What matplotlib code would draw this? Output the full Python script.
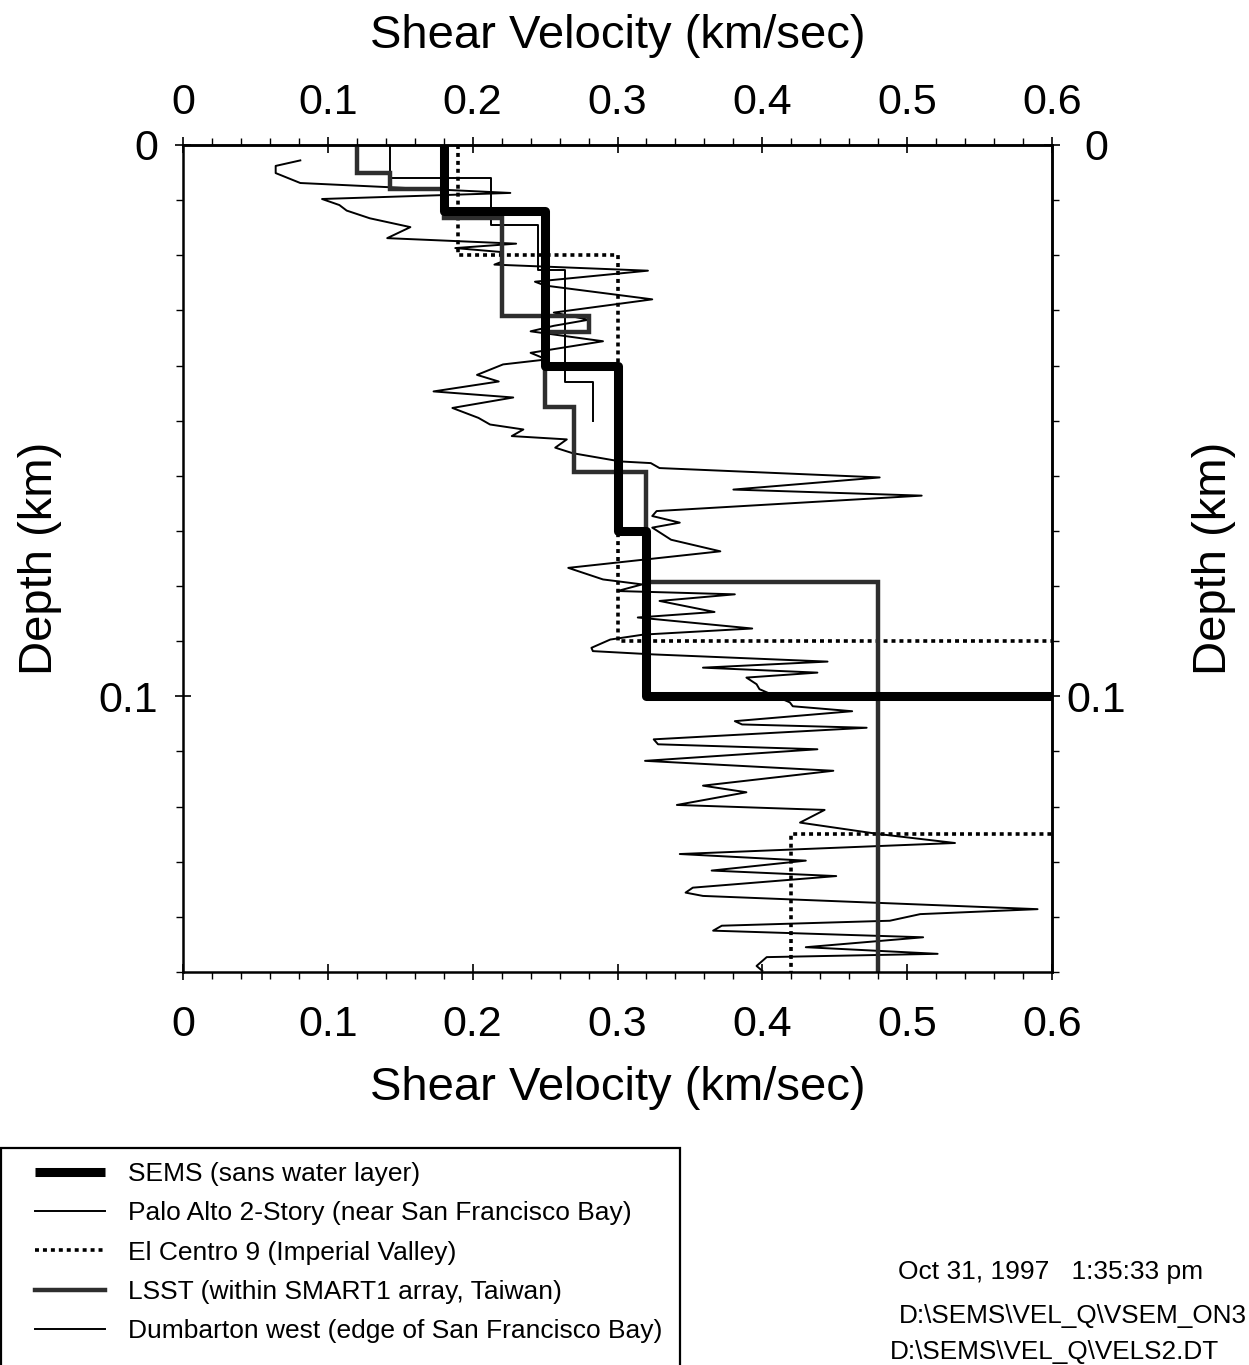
"""Shear velocity vs depth profiles (SEMS model and site logs)."""

import numpy as np
import matplotlib

matplotlib.use("Agg")
import matplotlib.pyplot as plt
from matplotlib.patches import Rectangle
from matplotlib.ticker import MultipleLocator, FixedLocator

plt.rcParams["font.family"] = ["Liberation Sans", "DejaVu Sans"]

# layered models: layer top depth (km), shear velocity (km/sec), bottom depth (km)
sems_tops = [0.0, 0.012, 0.04, 0.07, 0.1]
sems_vs = [0.18, 0.25, 0.30, 0.32, 0.75]
sems_bottom = 0.15

palo_alto_tops = [0.0, 0.006, 0.0145, 0.0226, 0.043]
palo_alto_vs = [0.143, 0.213, 0.245, 0.264, 0.283]
palo_alto_bottom = 0.05

el_centro_tops = [0.0, 0.02, 0.09, 0.125]
el_centro_vs = [0.19, 0.30, 0.75, 0.42]
el_centro_bottom = 0.15

lsst_tops = [0.0, 0.005, 0.008, 0.0132, 0.031, 0.034, 0.0475, 0.0594, 0.0793]
lsst_vs = [0.12, 0.143, 0.18, 0.22, 0.28, 0.25, 0.27, 0.32, 0.48]
lsst_bottom = 0.15

# Dumbarton west log (velocity km/sec, depth km)
dumbarton_vs = [
    0.081, 0.064, 0.064, 0.081, 0.226, 0.096, 0.108, 0.113, 0.129, 0.157,
    0.141, 0.230, 0.188, 0.219, 0.221, 0.215, 0.321, 0.243, 0.250, 0.324,
    0.256, 0.280, 0.256, 0.240, 0.290, 0.240, 0.251, 0.221, 0.203, 0.218,
    0.173, 0.228, 0.186, 0.204, 0.212, 0.235, 0.227, 0.265, 0.257, 0.269,
    0.302, 0.323, 0.329, 0.481, 0.380, 0.510, 0.327, 0.324, 0.343, 0.324,
    0.337, 0.371, 0.266, 0.290, 0.317, 0.300, 0.381, 0.329, 0.367, 0.314,
    0.393, 0.318, 0.295, 0.282, 0.283, 0.325, 0.445, 0.359, 0.438, 0.389,
    0.396, 0.398, 0.419, 0.421, 0.462, 0.381, 0.386, 0.472, 0.325, 0.328,
    0.438, 0.319, 0.449, 0.359, 0.389, 0.341, 0.443, 0.426, 0.481, 0.533,
    0.343, 0.430, 0.365, 0.451, 0.352, 0.347, 0.359, 0.590, 0.509, 0.488,
    0.372, 0.366, 0.511, 0.430, 0.521, 0.403, 0.396, 0.400,
]
dumbarton_depth = [
    0.0028, 0.0038, 0.0051, 0.0069, 0.0087, 0.0098, 0.0109, 0.0119, 0.0133, 0.0149,
    0.0169, 0.0179, 0.0187, 0.0194, 0.0211, 0.0217, 0.0228, 0.0248, 0.0255, 0.0280,
    0.0304, 0.0317, 0.0328, 0.0338, 0.0356, 0.0377, 0.0389, 0.0398, 0.0417, 0.0429,
    0.0447, 0.0458, 0.0477, 0.0495, 0.0507, 0.0516, 0.0528, 0.0534, 0.0549, 0.0559,
    0.0574, 0.0577, 0.0586, 0.0603, 0.0625, 0.0636, 0.0664, 0.0673, 0.0685, 0.0694,
    0.0716, 0.0737, 0.0767, 0.0788, 0.0797, 0.0809, 0.0815, 0.0827, 0.0847, 0.0857,
    0.0877, 0.0888, 0.0897, 0.0912, 0.0918, 0.0924, 0.0937, 0.0948, 0.0957, 0.0966,
    0.0978, 0.0987, 0.1011, 0.1018, 0.1027, 0.1045, 0.1051, 0.1057, 0.1078, 0.1087,
    0.1096, 0.1117, 0.1135, 0.1162, 0.1174, 0.1197, 0.1206, 0.1229, 0.1250, 0.1266,
    0.1286, 0.1298, 0.1316, 0.1326, 0.1347, 0.1356, 0.1362, 0.1386, 0.1395, 0.1407,
    0.1416, 0.1425, 0.1437, 0.1455, 0.1467, 0.1473, 0.1489, 0.1498,
]

velocity_ticks = [0.0, 0.1, 0.2, 0.3, 0.4, 0.5, 0.6]
velocity_tick_labels = ["0", "0.1", "0.2", "0.3", "0.4", "0.5", "0.6"]
depth_ticks = [0.0, 0.1]
depth_tick_labels = ["0", "0.1"]

legend_labels = [
    "SEMS (sans water layer)",
    "Palo Alto 2-Story (near San Francisco Bay)",
    "El Centro 9 (Imperial Valley)",
    "LSST (within SMART1 array, Taiwan)",
    "Dumbarton west (edge of San Francisco Bay)",
]
stamp_lines = [
    "Oct 31, 1997   1:35:33 pm",
    r"D:\SEMS\VEL_Q\VSEM_ON3",
    r"D:\SEMS\VEL_Q\VELS2.DT",
]


def _layered(tops, vs, bottom):
    tops = np.asarray(tops, dtype=float)
    bottoms = np.append(tops[1:], bottom)
    depth = np.column_stack([tops, bottoms]).ravel()
    vel = np.repeat(np.asarray(vs, dtype=float), 2)
    return vel, depth


def _style_ticks(axis_obj, pad):
    axis_obj.tick_params(which="major", direction="inout", length=12, width=1.2,
                         labelsize=31, pad=pad)
    axis_obj.tick_params(which="minor", direction="out", length=5, width=1.0)


fig = plt.figure(figsize=(12.49, 13.65), dpi=100)
ax = fig.add_axes([0.1465, 0.2879, 0.6958, 0.6059])

h_dumb, = ax.plot(dumbarton_vs, dumbarton_depth, color="black", lw=1.4)
v, d = _layered(palo_alto_tops, palo_alto_vs, palo_alto_bottom)
h_palo, = ax.plot(v, d, color="black", lw=1.4)
v, d = _layered(el_centro_tops, el_centro_vs, el_centro_bottom)
h_elc, = ax.plot(v, d, color="black", lw=2.6, linestyle=(0, (1.1, 1.1)))
v, d = _layered(lsst_tops, lsst_vs, lsst_bottom)
h_lsst, = ax.plot(v, d, color="#2e2e2e", lw=3.2, solid_joinstyle="miter")
v, d = _layered(sems_tops, sems_vs, sems_bottom)
h_sems, = ax.plot(v, d, color="black", lw=6.5, solid_joinstyle="round", solid_capstyle="butt")

ax.set_xlim(0, 0.6)
ax.set_ylim(0.15, 0)
for spine in ax.spines.values():
    spine.set_linewidth(1.8)

ax.xaxis.set_major_locator(FixedLocator(velocity_ticks))
ax.set_xticklabels(velocity_tick_labels)
ax.xaxis.set_minor_locator(MultipleLocator(0.02))
ax.yaxis.set_major_locator(FixedLocator(depth_ticks))
ax.set_yticklabels(depth_tick_labels)
ax.yaxis.set_minor_locator(MultipleLocator(0.01))
_style_ticks(ax, 12)
ax.tick_params(axis="x", which="major", pad=18)
ax.set_xlabel("Shear Velocity (km/sec)", fontsize=34, labelpad=15)
ax.set_ylabel("Depth (km)", fontsize=34, labelpad=26)

top = ax.secondary_xaxis("top")
top.xaxis.set_major_locator(FixedLocator(velocity_ticks))
top.set_xticklabels(velocity_tick_labels)
top.xaxis.set_minor_locator(MultipleLocator(0.02))
_style_ticks(top, 10)
top.set_xlabel("Shear Velocity (km/sec)", fontsize=34, labelpad=25)
top.spines["top"].set_linewidth(1.8)

right = ax.secondary_yaxis("right")
right.yaxis.set_major_locator(FixedLocator(depth_ticks))
right.set_yticklabels(depth_tick_labels, ha="center")
right.yaxis.set_minor_locator(MultipleLocator(0.01))
_style_ticks(right, 26)
right.set_ylabel("Depth (km)", fontsize=34, labelpad=47)
right.spines["right"].set_linewidth(1.8)

# legend box
fig.patches.append(Rectangle((1 / 1249, -0.01), 679 / 1249, 1 - 1148 / 1365 + 0.01,
                             transform=fig.transFigure, fill=False, edgecolor="black", lw=1.6))
fig.legend([h_sems, h_palo, h_elc, h_lsst, h_dumb], legend_labels,
           loc="upper left", bbox_to_anchor=(35 / 1249, 1 - 1162 / 1365),
           frameon=False, fontsize=19, handlelength=2.66, handletextpad=0.87,
           labelspacing=0.58, borderpad=0.0, borderaxespad=0.0)

stamp_x = [898, 899, 890]
stamp_y = [1272, 1316, 1352]
stamp_size = [19, 18.8, 18.8]
for text, sx, sy, fs in zip(stamp_lines, stamp_x, stamp_y, stamp_size):
    fig.text(sx / 1249, 1 - sy / 1365, text, fontsize=fs, va="center", ha="left")

fig.savefig("out.png", dpi=100)
